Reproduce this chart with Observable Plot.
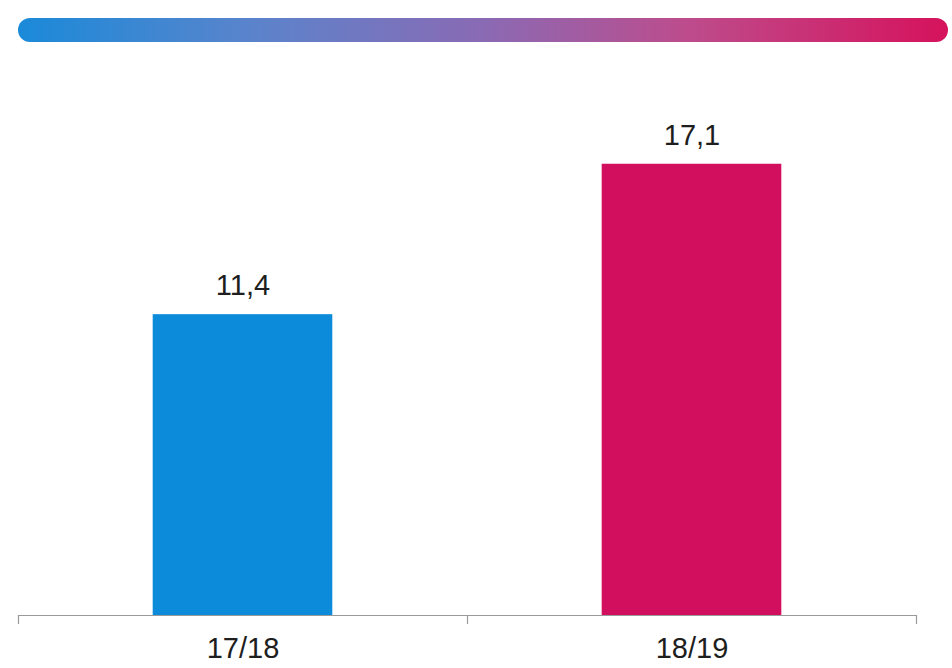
<!DOCTYPE html>
<html>
<head>
<meta charset="utf-8">
<script src="https://cdn.jsdelivr.net/npm/d3@7"></script>
<script src="https://cdn.jsdelivr.net/npm/@observablehq/plot@0.6"></script>
<style>
  html, body { margin: 0; padding: 0; background: #ffffff; }
  body { width: 952px; height: 668px; overflow: hidden; font-family: "Liberation Sans", Arial, sans-serif; }
  #band {
    margin: 18px 4px 0 18px;
    height: 24px;
    border-radius: 12px;
    background: linear-gradient(to right, #1a8ad9 0%, #5a84cc 25%, #8a6ab4 50%, #bd4c8c 72%, #d6125c 100%);
  }
  #chart svg { display: block; }
</style>
</head>
<body>
<div id="band"></div>
<div id="chart"></div>
<script>
const categories = ["17/18", "18/19"];
const values = [11.4, 17.1];
const labels = ["11,4", "17,1"];
const colors = ["#0b8bda", "#d20f5e"];

const data = categories.map((c, i) => ({ i, category: c, value: values[i], label: labels[i], color: colors[i] }));

const chart = Plot.plot({
  width: 952,
  height: 626,
  marginLeft: 18,
  marginRight: 36,
  marginTop: 98,
  marginBottom: 53,
  style: { fontFamily: "Liberation Sans, Arial, sans-serif", background: "transparent" },
  x: { type: "linear", domain: [0, categories.length], axis: null },
  y: { domain: [0, 18], axis: null },
  marks: [
    Plot.rectY(data, {
      x1: d => d.i + 0.3,
      x2: d => d.i + 0.7,
      y1: 0,
      y2: "value",
      fill: "color",
      style: "filter: drop-shadow(2px 1px 2px rgba(0,0,0,0.18))"
    }),
    Plot.ruleY([0], { stroke: "#9a9a9a", strokeWidth: 1.2 }),
    Plot.axisX({
      ticks: d3.range(categories.length + 1),
      tickSize: 9,
      tickFormat: () => "",
      stroke: "#9a9a9a",
      strokeWidth: 1.2
    }),
    Plot.axisX({
      ticks: categories.map((c, i) => i + 0.5),
      tickSize: 0,
      tickPadding: 22,
      tickFormat: d => categories[Math.floor(d)],
      fontSize: 29,
      fill: "#1e1e1e"
    }),
    Plot.text(data, {
      x: d => d.i + 0.5,
      y: "value",
      text: "label",
      dy: -29,
      fontSize: 29,
      fill: "#1e1e1e"
    })
  ]
});
document.getElementById("chart").appendChild(chart);
</script>
</body>
</html>
